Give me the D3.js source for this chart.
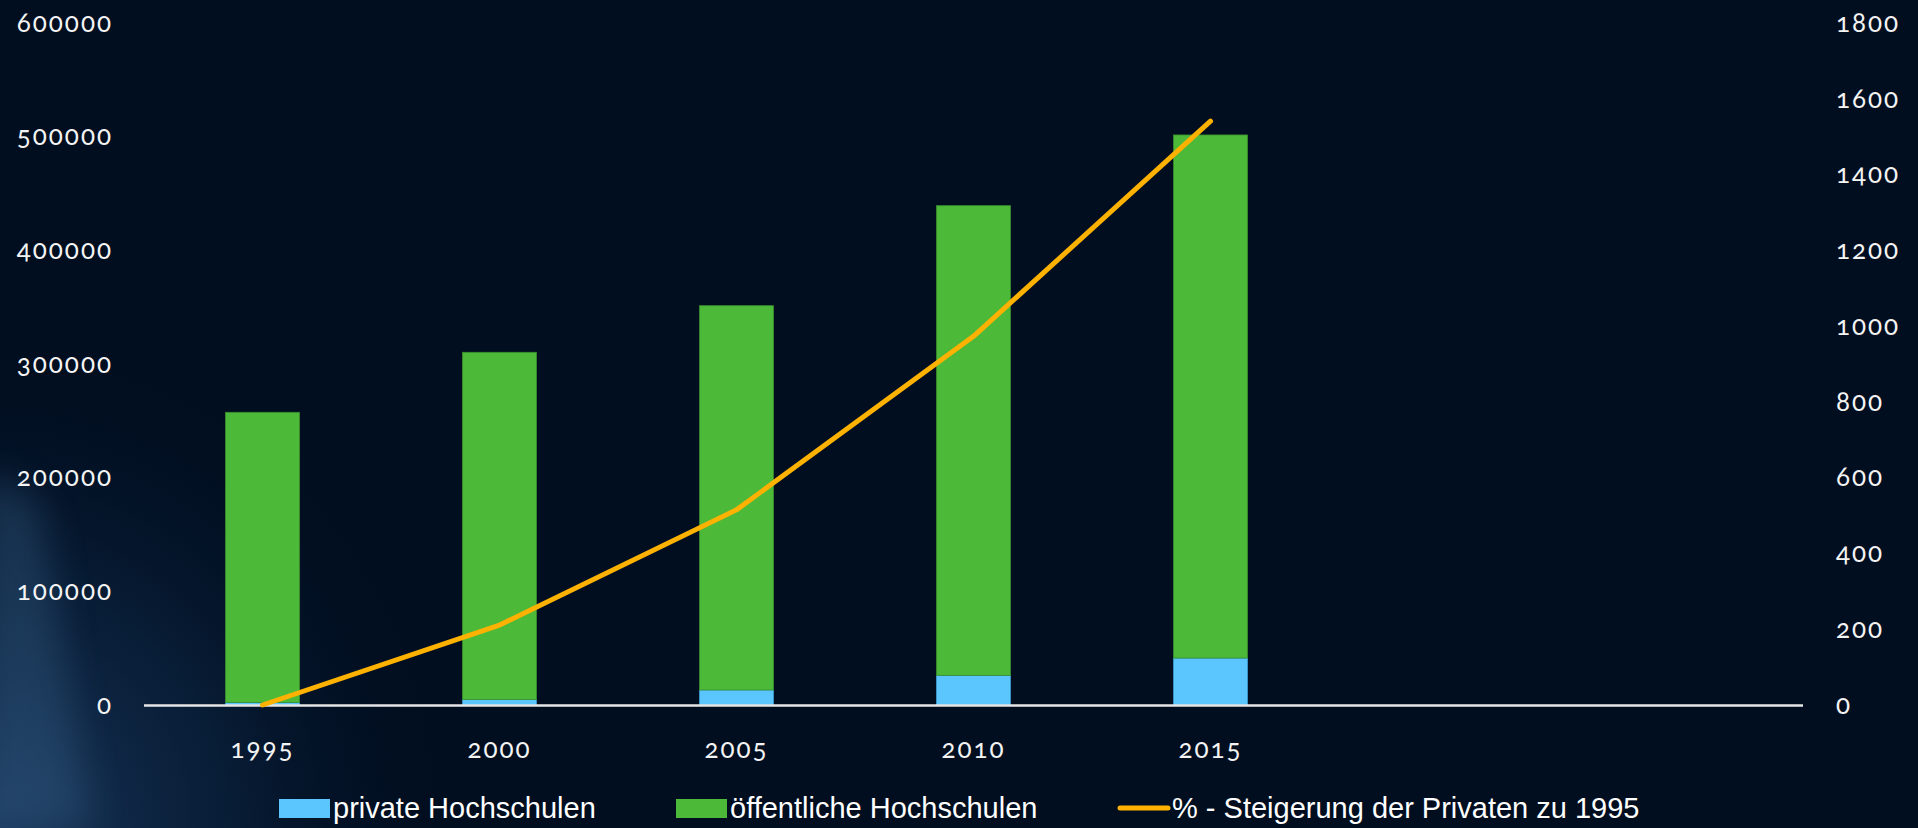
<!DOCTYPE html>
<html>
<head>
<meta charset="utf-8">
<script src="https://cdn.jsdelivr.net/npm/d3@7"></script>
<style>
  html, body { margin: 0; padding: 0; background: #010e20; overflow: hidden; }
  .tick-label { fill: #f4f4f4; font-family: Lato, "Noto Sans", sans-serif; font-variant-numeric: oldstyle-nums; font-feature-settings: "onum" 1; }
  .legend-text { fill: #ffffff; font-family: "Liberation Sans", Arial, sans-serif; font-size: 29px; }
</style>
</head>
<body>
<svg id="chart"></svg>
<script>
// Daten
const years = ["1995", "2000", "2005", "2010", "2015", "", " "];
const privateHS = [2300, 4800, 13200, 26100, 41300];
const publicHS = [255200, 305500, 338100, 413200, 460200];
const steigerung = [0, 211, 515, 973, 1541];
const leftTicks = [0, 100000, 200000, 300000, 400000, 500000, 600000];
const rightTicks = [0, 200, 400, 600, 800, 1000, 1200, 1400, 1600, 1800];
const legendLabels = ["private Hochschulen", "öffentliche Hochschulen", "% - Steigerung der Privaten zu 1995"];

const width = 1918, height = 828;
const margin = { top: 23, right: 115, bottom: 123, left: 144 };

const svg = d3.select("#chart")
    .attr("width", width)
    .attr("height", height);

// Hintergrund mit leichtem Schimmer links unten
const defs = svg.append("defs");
const glow = defs.append("radialGradient")
    .attr("id", "glow")
    .attr("cx", 0).attr("cy", 1).attr("r", 0.6)
    .attr("gradientTransform", "scale(0.4,1)");
glow.append("stop").attr("offset", "0%").attr("stop-color", "#1f4068").attr("stop-opacity", 0.85);
glow.append("stop").attr("offset", "50%").attr("stop-color", "#0f2b4b").attr("stop-opacity", 0.5);
glow.append("stop").attr("offset", "100%").attr("stop-color", "#010e20").attr("stop-opacity", 0);

defs.append("filter").attr("id", "soft")
    .attr("x", "-50%").attr("y", "-50%").attr("width", "200%").attr("height", "200%")
    .append("feGaussianBlur").attr("stdDeviation", 18);

svg.append("rect").attr("width", width).attr("height", height).attr("fill", "#010e20");
svg.append("rect").attr("width", width).attr("height", height).attr("fill", "url(#glow)");
// heller Streifen am linken Rand
svg.append("path")
    .attr("d", "M-20,470 L40,500 L90,828 L-20,828 Z")
    .attr("fill", "#3b6690")
    .attr("opacity", 0.35)
    .attr("filter", "url(#soft)");

// Skalen
const x = d3.scaleBand()
    .domain(years)
    .range([margin.left, width - margin.right])
    .paddingInner(0.688)
    .paddingOuter(0.344);

const yLeft = d3.scaleLinear()
    .domain([0, 600000])
    .range([height - margin.bottom, margin.top]);

const yRight = d3.scaleLinear()
    .domain([0, 1800])
    .range([height - margin.bottom, margin.top]);

// Gestapelte Säulen
const stackData = privateHS.map((p, i) => ({ year: years[i], privat: p, oeffentlich: publicHS[i] }));
const series = d3.stack().keys(["privat", "oeffentlich"])(stackData);
const colors = { privat: "#5ac6fd", oeffentlich: "#4cb939" };
const strokes = { privat: "#3d9fd4", oeffentlich: "#3b8f2e" };

svg.append("g")
    .selectAll("g")
    .data(series)
    .join("g")
    .attr("fill", s => colors[s.key])
    .attr("stroke", s => strokes[s.key])
    .attr("stroke-width", 0.8)
    .selectAll("rect")
    .data(s => s)
    .join("rect")
    .attr("x", d => x(d.data.year))
    .attr("y", d => yLeft(d[1]))
    .attr("width", x.bandwidth())
    .attr("height", d => yLeft(d[0]) - yLeft(d[1]));

// Grundlinie
svg.append("line")
    .attr("x1", margin.left)
    .attr("x2", width - margin.right)
    .attr("y1", yLeft(0) + 0.5)
    .attr("y2", yLeft(0) + 0.5)
    .attr("stroke", "#e6e6e6")
    .attr("stroke-width", 2.5);

// Linie: Steigerung der Privaten
const line = d3.line()
    .x((d, i) => x(years[i]) + x.bandwidth() / 2)
    .y(d => yRight(d));

svg.append("path")
    .datum(steigerung)
    .attr("fill", "none")
    .attr("stroke", "#fdb100")
    .attr("stroke-width", 5)
    .attr("stroke-linejoin", "round")
    .attr("stroke-linecap", "round")
    .attr("d", line);

// Achsen
const axisLeft = svg.append("g")
    .attr("transform", `translate(${margin.left},0)`)
    .call(d3.axisLeft(yLeft).tickValues(leftTicks).tickSize(0).tickPadding(31).tickFormat(d => String(d)));

const axisRight = svg.append("g")
    .attr("transform", `translate(${width - margin.right},0)`)
    .call(d3.axisRight(yRight).tickValues(rightTicks).tickSize(0).tickPadding(33).tickFormat(d => String(d)));

const axisBottom = svg.append("g")
    .attr("transform", `translate(0,${yLeft(0)})`)
    .call(d3.axisBottom(x).tickValues(years.slice(0, 5)).tickSize(0).tickPadding(35));

[axisLeft, axisRight, axisBottom].forEach(a => {
    a.select(".domain").remove();
    a.selectAll("text")
        .attr("class", "tick-label")
        .style("font-size", "26px")
        .style("letter-spacing", "2px");
});

// Legende
const legend = svg.append("g").attr("transform", "translate(0,808)");
const legendX = [279, 676, 1117];

legend.append("rect").attr("x", legendX[0]).attr("y", -9).attr("width", 51).attr("height", 19).attr("fill", colors.privat);
legend.append("text").attr("class", "legend-text").attr("x", legendX[0] + 54).attr("y", 10).text(legendLabels[0]);

legend.append("rect").attr("x", legendX[1]).attr("y", -9).attr("width", 51).attr("height", 19).attr("fill", colors.oeffentlich);
legend.append("text").attr("class", "legend-text").attr("x", legendX[1] + 54).attr("y", 10).text(legendLabels[1]);

legend.append("line")
    .attr("x1", legendX[2] + 3).attr("x2", legendX[2] + 51)
    .attr("y1", 0).attr("y2", 0)
    .attr("stroke", "#fdb100").attr("stroke-width", 5).attr("stroke-linecap", "round");
legend.append("text").attr("class", "legend-text").attr("x", legendX[2] + 55).attr("y", 10).text(legendLabels[2]);
</script>
</body>
</html>
